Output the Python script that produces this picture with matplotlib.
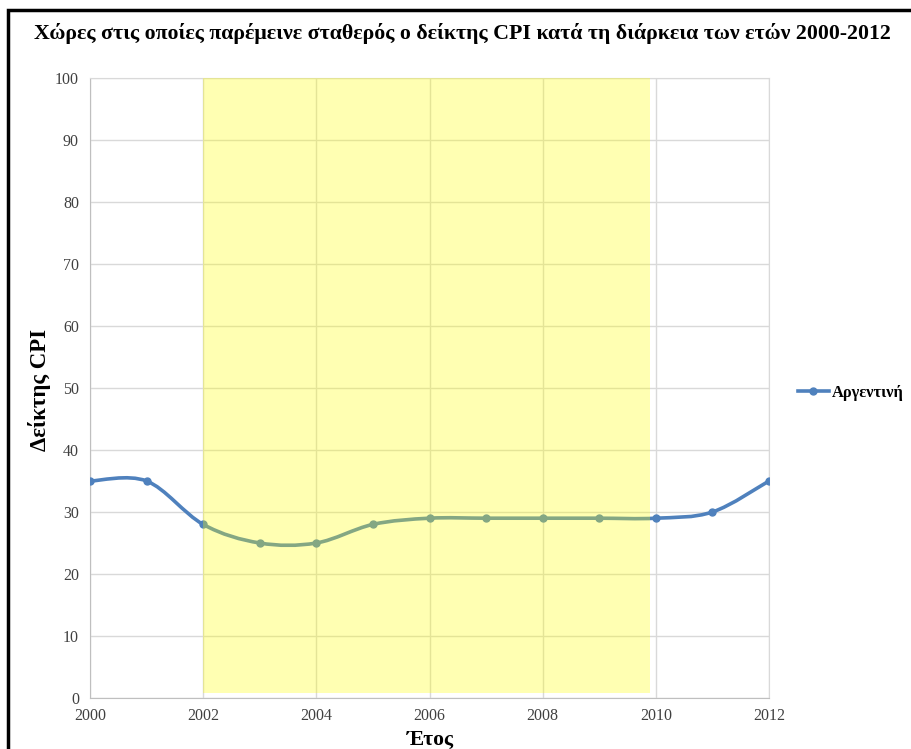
import numpy as np
import matplotlib
matplotlib.use('Agg')
import matplotlib.pyplot as plt
from matplotlib.path import Path
from matplotlib.patches import PathPatch, Rectangle
from matplotlib.lines import Line2D

years = [2000, 2001, 2002, 2003, 2004, 2005, 2006, 2007, 2008, 2009, 2010, 2011, 2012]
cpi = [35, 35, 28, 25, 25, 28, 29, 29, 29, 29, 29, 30, 35]
highlight = (2002, 2009.9)
series_name = 'Αργεντινή'
title = 'Χώρες στις οποίες παρέμεινε σταθερός ο δείκτης CPI κατά τη διάρκεια των ετών 2000-2012'

plt.rcParams['font.family'] = ['Liberation Serif', 'DejaVu Serif']

blue = '#4F81BD'

fig = plt.figure(figsize=(9.12, 7.49), dpi=100)
ax = fig.add_axes([90 / 912, 1 - 698 / 749, (769 - 90) / 912, (698 - 78) / 749])

# smoothed line, like excel (catmull-rom as bezier)
x = np.array(years, dtype=float)
y = np.array(cpi, dtype=float)
verts = [(x[0], y[0])]
codes = [Path.MOVETO]
n = len(x)
for i in range(n - 1):
    p0 = np.array([x[max(i - 1, 0)], y[max(i - 1, 0)]])
    p1 = np.array([x[i], y[i]])
    p2 = np.array([x[i + 1], y[i + 1]])
    p3 = np.array([x[min(i + 2, n - 1)], y[min(i + 2, n - 1)]])
    c1 = p1 + (p2 - p0) / 6
    c2 = p2 - (p3 - p1) / 6
    verts += [tuple(c1), tuple(c2), tuple(p2)]
    codes += [Path.CURVE4] * 3
ax.add_patch(PathPatch(Path(verts, codes), facecolor='none', edgecolor=blue,
                       lw=2.6, zorder=3, capstyle='round'))
ax.plot(years, cpi, 'o', color=blue, ms=5, zorder=4)

# yellow box drawn over the line
ax.axvspan(highlight[0], highlight[1], ymin=0.0085, ymax=1, color='yellow',
           alpha=0.3, lw=0, zorder=5)

ax.set_xlim(2000, 2012)
ax.set_ylim(0, 100)
ax.set_xticks(range(2000, 2013, 2))
ax.set_yticks(range(0, 101, 10))
ax.grid(True, color='#D9D9D9', lw=1)
ax.set_axisbelow(True)
for s in ax.spines.values():
    s.set_color('#D9D9D9')
ax.spines['left'].set_color('#BFBFBF')
ax.spines['bottom'].set_color('#BFBFBF')
ax.tick_params(length=0, labelsize=11.5, labelcolor='#404040', pad=8)
ax.tick_params(axis='x', pad=7)

fig.text(40 / 912, 1 - 390 / 749, 'Δείκτης CPI', rotation=90, ha='center', va='center',
         fontsize=16.5, fontweight='bold')
fig.text(430 / 912, 1 - 740 / 749, 'Έτος', ha='center', va='center',
         fontsize=15.5, fontweight='bold')

fig.text(0.507, 1 - 33 / 749, title, ha='center', va='center', fontsize=15.75,
         fontweight='bold')

handle = Line2D([], [], color=blue, lw=2.6, marker='o', ms=5)
fig.legend([handle], [series_name], loc='center left', bbox_to_anchor=(783 / 912, 1 - 393 / 749),
           frameon=False, prop={'weight': 'bold', 'size': 11.8}, handlelength=1.9,
           handletextpad=0.15)

# black frame (left and top edges visible)
fig.patches.append(Rectangle((8 / 912, -0.1), 1.2, 1 - 10 / 749 + 0.1, transform=fig.transFigure,
                             fill=False, edgecolor='black', lw=2.5))

fig.savefig('out.png', dpi=100)
